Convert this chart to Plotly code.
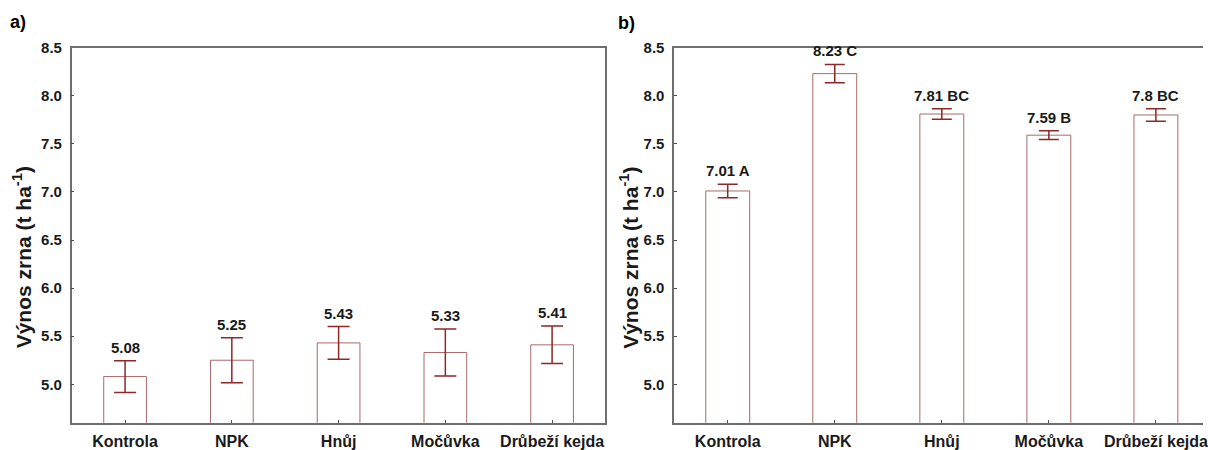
import plotly.graph_objects as go

categories = ["Kontrola", "NPK", "Hnůj", "Močůvka", "Drůbeží kejda"]
means_a = [5.08, 5.25, 5.43, 5.33, 5.41]
err_a = [0.165, 0.235, 0.17, 0.245, 0.195]
labels_a = ["5.08", "5.25", "5.43", "5.33", "5.41"]
means_b = [7.01, 8.23, 7.81, 7.59, 7.80]
err_b = [0.07, 0.095, 0.055, 0.045, 0.065]
labels_b = ["7.01 A", "8.23 C", "7.81 BC", "7.59 B", "7.8 BC"]
y_ticks = [5.0, 5.5, 6.0, 6.5, 7.0, 7.5, 8.0, 8.5]
y_title = "Výnos zrna (t ha<sup>-1</sup>)"

W, H = 1208, 450
FONT = "Liberation Sans, Arial, sans-serif"
BAR_LINE = "rgb(170,105,105)"
ERR_COL = "rgb(140,40,40)"
TXT = "#1a1a1a"

fig = go.Figure()

fig.add_trace(go.Bar(
    x=categories, y=means_a, width=0.4, xaxis="x", yaxis="y",
    marker=dict(color="white", line=dict(color=BAR_LINE, width=1)),
    error_y=dict(type="data", array=err_a, color=ERR_COL, thickness=1.5, width=11),
    showlegend=False, hoverinfo="skip"))
fig.add_trace(go.Bar(
    x=categories, y=means_b, width=0.41, xaxis="x2", yaxis="y2",
    marker=dict(color="white", line=dict(color=BAR_LINE, width=1)),
    error_y=dict(type="data", array=err_b, color=ERR_COL, thickness=1.5, width=10),
    showlegend=False, hoverinfo="skip"))

lab_font = dict(family=FONT, size=15, color=TXT, weight="bold")
ann = []
for c, m, e, t in zip(categories, means_a, err_a, labels_a):
    ann.append(dict(x=c, y=m + e, xref="x", yref="y", text=t, showarrow=False,
                    yanchor="bottom", yshift=3, font=lab_font))
for c, m, e, t in zip(categories, means_b, err_b, labels_b):
    ann.append(dict(x=c, y=m + e, xref="x2", yref="y2", text=t, showarrow=False,
                    yanchor="bottom", yshift=3, font=lab_font))


def px(x):
    return x / W


def py(y):
    return (H - y) / H


title_font = dict(family=FONT, size=21, color=TXT, weight="bold")
ann.append(dict(x=px(23), y=py(257), xref="paper", yref="paper", text=y_title,
                textangle=-90, showarrow=False, xanchor="center", yanchor="middle",
                font=title_font))
ann.append(dict(x=px(632), y=py(257), xref="paper", yref="paper", text=y_title,
                textangle=-90, showarrow=False, xanchor="center", yanchor="middle",
                font=title_font))
ann.append(dict(x=px(18), y=py(13), xref="paper", yref="paper", text="a)",
                showarrow=False, xanchor="center", yanchor="middle",
                font=dict(family=FONT, size=18, color="#000", weight="bold")))
ann.append(dict(x=px(629), y=py(15), xref="paper", yref="paper", text="b)",
                showarrow=False, xanchor="center", yanchor="middle",
                font=dict(family=FONT, size=18, color="#000", weight="bold")))

ytickfont = dict(family=FONT, size=15, color=TXT, weight="bold")
xtickfont = dict(family=FONT, size=16, color=TXT, weight="bold")
ydom = [py(428), py(40)]

xcommon = dict(type="category", showline=True, linecolor="rgb(110,110,110)", linewidth=1.5,
               mirror=True, ticks="inside", ticklen=3, tickcolor="rgb(80,80,80)",
               tickfont=xtickfont, showgrid=False, zeroline=False, fixedrange=True,
               ticklabelstandoff=3)
ycommon = dict(range=[4.6, 8.5], tickvals=y_ticks, ticktext=[f"{v:.1f}" for v in y_ticks],
               showline=True, linecolor="rgb(110,110,110)", linewidth=1.5,
               ticks="inside", ticklen=3, tickcolor="rgb(80,80,80)", tickfont=ytickfont,
               showgrid=False, zeroline=False, ticklabelstandoff=5, domain=ydom)

fig.update_layout(
    width=W, height=H, margin=dict(l=0, r=0, t=0, b=0),
    paper_bgcolor="white", plot_bgcolor="white",
    xaxis=dict(xcommon, domain=[px(72), px(608)], range=[-0.5, 4.5], anchor="y"),
    yaxis=dict(ycommon, anchor="x", mirror=True),
    xaxis2=dict(xcommon, domain=[px(677), 1.0], range=[-0.5, 4.44], anchor="y2"),
    yaxis2=dict(ycommon, anchor="x2", mirror=False),
    annotations=ann, bargap=0.6,
)

fig.write_html("out.html")
